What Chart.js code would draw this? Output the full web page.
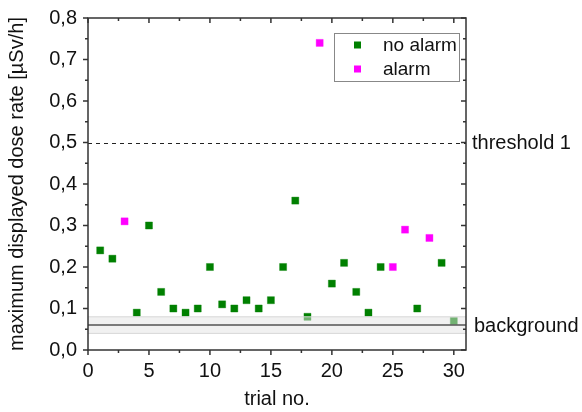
<!DOCTYPE html>
<html lang="en">

<head>
    <meta charset="UTF-8">
    <title>Dose rate per trial</title>
    <script src="https://cdn.jsdelivr.net/npm/chart.js"></script>
    <style>
        body {
            margin: 0;
            background: white;
        }
    </style>
</head>

<body>
    <canvas id="doseChart" width="582" height="412"></canvas>

    <script>
        // measured maximum dose rate per trial, in µSv/h
        const noAlarmTrials = [1, 2, 4, 5, 6, 7, 8, 9, 10, 11, 12, 13, 14, 15, 16, 17, 18, 20, 21, 22, 23, 24, 27, 29, 30];
        const noAlarmRates = [0.24, 0.22, 0.09, 0.30, 0.14, 0.10, 0.09, 0.10, 0.20, 0.11, 0.10, 0.12, 0.10, 0.12, 0.20, 0.36, 0.08, 0.16, 0.21, 0.14, 0.09, 0.20, 0.10, 0.21, 0.07];
        const alarmTrials = [3, 19, 25, 26, 28];
        const alarmRates = [0.31, 0.74, 0.20, 0.29, 0.27];

        const threshold = 0.5;
        const backgroundMean = 0.06;
        const backgroundBand = [0.04, 0.08];

        const xTicks = [0, 5, 10, 15, 20, 25, 30];
        const yTicks = [0, 0.1, 0.2, 0.3, 0.4, 0.5, 0.6, 0.7, 0.8];

        const FONT = '"Liberation Sans", Arial, sans-serif';

        function toPoints(xs, ys) {
            return xs.map((x, i) => ({ x: x, y: ys[i] }));
        }

        // frame, ticks, reference lines, legend and labels
        const overlay = {
            id: 'overlay',
            afterDatasetsDraw(chart) {
                const ctx = chart.ctx;
                const a = chart.chartArea;
                const xs = chart.scales.x;
                const ys = chart.scales.y;
                ctx.save();

                // background band sits over the markers
                const bTop = ys.getPixelForValue(backgroundBand[1]);
                const bBot = ys.getPixelForValue(backgroundBand[0]);
                ctx.fillStyle = 'rgba(228,228,228,0.5)';
                ctx.fillRect(a.left, bTop, a.right - a.left, bBot - bTop);
                ctx.strokeStyle = '#d8d8d8';
                ctx.lineWidth = 1;
                ctx.beginPath();
                ctx.moveTo(a.left, bTop); ctx.lineTo(a.right, bTop);
                ctx.moveTo(a.left, bBot); ctx.lineTo(a.right, bBot);
                ctx.stroke();
                const bMid = ys.getPixelForValue(backgroundMean);
                ctx.strokeStyle = '#555';
                ctx.lineWidth = 1.5;
                ctx.beginPath();
                ctx.moveTo(a.left, bMid); ctx.lineTo(a.right, bMid);
                ctx.stroke();

                // threshold
                const tY = Math.round(ys.getPixelForValue(threshold)) + 0.5;
                ctx.strokeStyle = '#222';
                ctx.lineWidth = 1;
                ctx.setLineDash([4, 4]);
                ctx.beginPath();
                ctx.moveTo(a.left, tY); ctx.lineTo(a.right, tY);
                ctx.stroke();
                ctx.setLineDash([]);

                // frame
                ctx.strokeStyle = '#333';
                ctx.lineWidth = 1.5;
                ctx.strokeRect(a.left, a.top, a.right - a.left, a.bottom - a.top);

                // ticks: outward on left/bottom, inward on top/right
                ctx.beginPath();
                for (let v = 0; v <= 31; v += 2.5) {
                    const px = xs.getPixelForValue(v);
                    const len = v % 5 === 0 ? 5 : 3;
                    ctx.moveTo(px, a.bottom); ctx.lineTo(px, a.bottom + len);
                    ctx.moveTo(px, a.top); ctx.lineTo(px, a.top + len);
                }
                for (let i = 0; i <= 16; i++) {
                    const py = ys.getPixelForValue(i * 0.05);
                    const len = i % 2 === 0 ? 5 : 3;
                    ctx.moveTo(a.left, py); ctx.lineTo(a.left - len, py);
                    ctx.moveTo(a.right, py); ctx.lineTo(a.right - len, py);
                }
                ctx.stroke();

                // right-hand labels
                ctx.fillStyle = '#111';
                ctx.font = '20px ' + FONT;
                ctx.textBaseline = 'middle';
                ctx.textAlign = 'left';
                ctx.fillText('threshold 1', a.right + 6, tY);
                ctx.fillText('background', a.right + 8, bMid + 1);

                // legend
                const lx = 334, ly = 33, lw = 125, lh = 48;
                ctx.fillStyle = 'white';
                ctx.fillRect(lx, ly, lw, lh);
                ctx.strokeStyle = '#888';
                ctx.lineWidth = 1;
                ctx.strokeRect(lx + 0.5, ly + 0.5, lw, lh);
                chart.data.datasets.forEach((ds, i) => {
                    const cy = ly + 12 + i * 24;
                    ctx.fillStyle = ds.backgroundColor;
                    ctx.fillRect(lx + 20, cy - 3.5, 7, 7);
                    ctx.fillStyle = '#111';
                    ctx.font = '19px ' + FONT;
                    ctx.fillText(ds.label, lx + 49, cy + 1);
                });

                ctx.restore();
            }
        };

        const ctx = document.getElementById('doseChart').getContext('2d');
        new Chart(ctx, {
            type: 'scatter',
            data: {
                datasets: [{
                    label: 'no alarm',
                    data: toPoints(noAlarmTrials, noAlarmRates),
                    backgroundColor: '#008000',
                    borderColor: 'rgba(0,128,0,0.35)',
                    borderWidth: 1,
                    pointStyle: 'rect',
                    pointRadius: 5,
                    pointHoverRadius: 5
                }, {
                    label: 'alarm',
                    data: toPoints(alarmTrials, alarmRates),
                    backgroundColor: '#ff00ff',
                    borderColor: 'rgba(255,0,255,0.35)',
                    borderWidth: 1,
                    pointStyle: 'rect',
                    pointRadius: 5,
                    pointHoverRadius: 5
                }]
            },
            options: {
                responsive: false,
                animation: false,
                events: [],
                layout: {
                    padding: { top: 18, right: 116, left: 0, bottom: 0 }
                },
                plugins: {
                    legend: { display: false },
                    tooltip: { enabled: false }
                },
                scales: {
                    x: {
                        type: 'linear',
                        min: 0,
                        max: 31,
                        afterBuildTicks: s => { s.ticks = xTicks.map(v => ({ value: v })); },
                        afterFit: s => { s.height = 62; },
                        grid: { display: false, drawTicks: true, tickLength: 5 },
                        border: { display: false },
                        ticks: {
                            padding: 4,
                            color: '#111',
                            font: { family: FONT, size: 20 }
                        },
                        title: {
                            display: true,
                            text: 'trial no.',
                            color: '#111',
                            font: { family: FONT, size: 20 },
                            padding: { top: 0, bottom: 1 }
                        }
                    },
                    y: {
                        min: 0,
                        max: 0.8,
                        afterBuildTicks: s => { s.ticks = yTicks.map(v => ({ value: v })); },
                        afterFit: s => { s.width = 88; },
                        grid: { display: false, drawTicks: true, tickLength: 5 },
                        border: { display: false },
                        ticks: {
                            padding: 6,
                            color: '#111',
                            font: { family: FONT, size: 20 },
                            callback: v => v.toFixed(1).replace('.', ',')
                        },
                        title: {
                            display: true,
                            text: 'maximum displayed dose rate [µSv/h]',
                            color: '#111',
                            font: { family: FONT, size: 20 },
                            padding: { top: 5, bottom: 0 }
                        }
                    }
                }
            },
            plugins: [overlay]
        });
    </script>

</body>

</html>
